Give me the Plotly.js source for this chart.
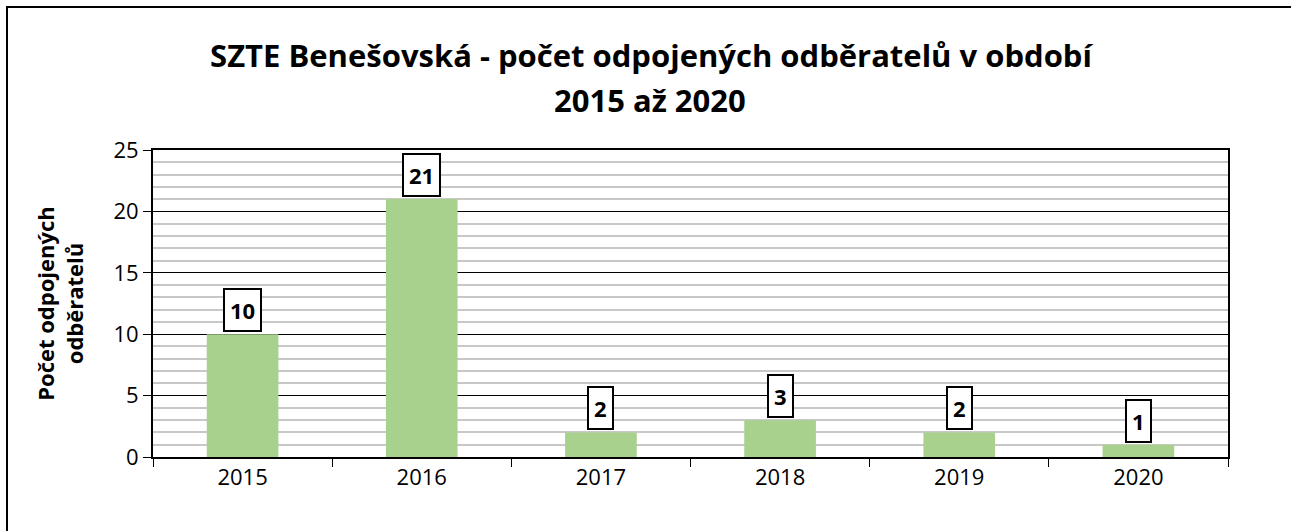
<!DOCTYPE html>
<html><head><meta charset="utf-8">
<script src="https://cdn.plot.ly/plotly-3.0.1.min.js"></script>
<style>html,body{margin:0;padding:0;background:#fff}#chart{width:1291px;height:531px}</style>
</head><body><div id="chart"></div>
<script>
const years = ['2015','2016','2017','2018','2019','2020'];
const counts = [10, 21, 2, 3, 2, 1];
const titleLine1 = 'SZTE Benešovská - počet odpojených odběratelů v období';
const titleLine2 = '2015 až 2020';
const yTitle = 'Počet odpojených<br>odběratelů';

const FONT = 'Open Sans, Liberation Sans, sans-serif';

const trace = {
  type: 'bar', x: years, y: counts,
  marker: {color: '#A9D18E'}, width: 0.4,
  hoverinfo: 'skip'
};

const annotations = years.map((yr, i) => ({
  x: i, y: counts[i], xref: 'x', yref: 'y',
  text: '<b>' + counts[i] + '</b>', showarrow: false,
  yanchor: 'bottom', yshift: 2,
  font: {family: FONT, size: 22, color: '#000'},
  bgcolor: '#fff', bordercolor: '#000', borderwidth: 2, borderpad: 5
}));
annotations.push({
  xref: 'paper', yref: 'paper', x: (650 - 153) / 1075, y: (457 - 100) / 307, xanchor: 'center', yanchor: 'middle',
  text: '<b>' + titleLine2 + '</b>', showarrow: false,
  font: {family: FONT, size: 31, color: '#000'}
});

const layout = {
  width: 1291, height: 531,
  margin: {l: 153, r: 63, t: 150, b: 74},
  paper_bgcolor: '#fff', plot_bgcolor: '#fff',
  showlegend: false,
  title: {text: '<b>' + titleLine1 + '</b>', x: 651 / 1291, xanchor: 'center', y: 1 - 56/531, yanchor: 'middle',
          font: {family: FONT, size: 31, color: '#000'}},
  xaxis: {
    type: 'category', range: [-0.5, 5.5], tickson: 'boundaries', ticks: 'outside', ticklen: 8, tickcolor: '#000', tickwidth: 1,
    showline: true, linecolor: '#000', linewidth: 2, mirror: true, tickangle: 0,
    tickfont: {family: FONT, size: 22, color: '#000'}, showgrid: false
  },
  yaxis: {
    range: [0, 25], dtick: 5, ticks: 'outside', ticklen: 8, tickcolor: '#000',
    showline: true, linecolor: '#000', linewidth: 2, mirror: true,
    gridcolor: '#000', gridwidth: 1, zeroline: false,
    minor: {dtick: 1, showgrid: true, gridcolor: '#c8c8c8', gridwidth: 2, ticks: ''},
    tickfont: {family: FONT, size: 22, color: '#000'},
    title: {text: '<b>' + yTitle + '</b>', standoff: 24, font: {family: FONT, size: 22, color: '#000'}}
  },
  annotations: annotations,
  shapes: [{type: 'rect', xref: 'paper', yref: 'paper',
    x0: -146/1075, x1: 2, y0: -0.5, y1: 1 + 143/307,
    line: {color: '#000', width: 2}, fillcolor: 'rgba(0,0,0,0)', layer: 'below'}]
};

Plotly.newPlot('chart', [trace], layout, {displayModeBar: false, staticPlot: true});
</script></body></html>
